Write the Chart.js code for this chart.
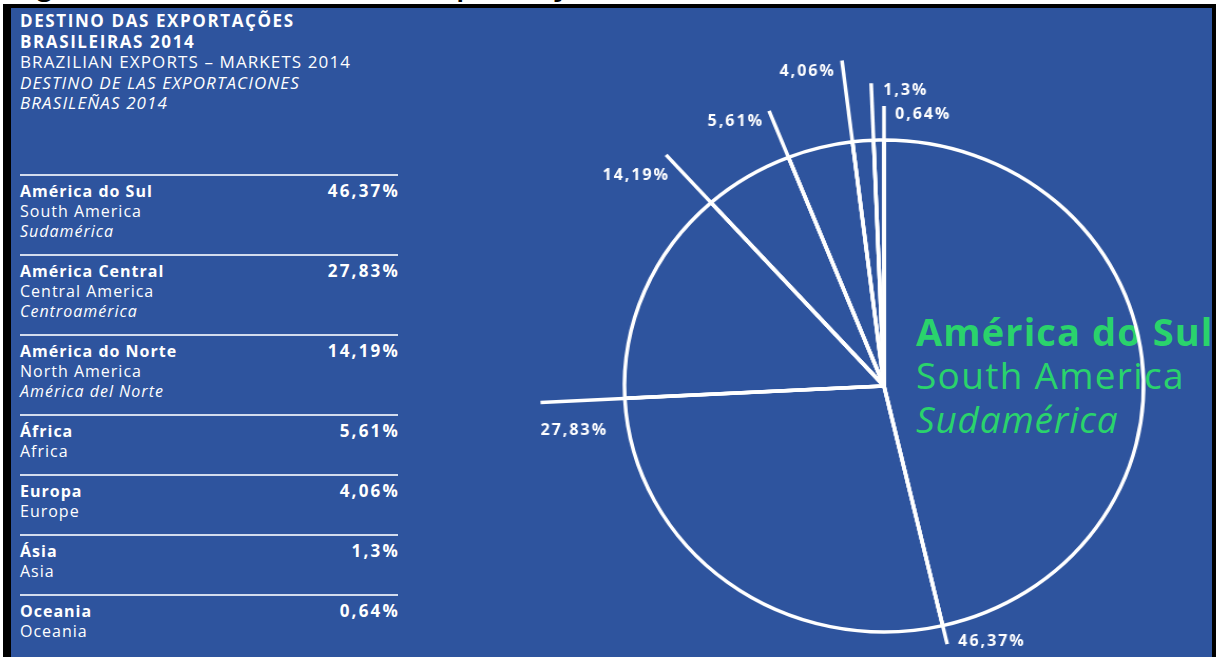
<!DOCTYPE html>
<html>
<head>
<meta charset="utf-8">
<script src="https://cdn.jsdelivr.net/npm/chart.js@4.4.1/dist/chart.umd.min.js"></script>
<style>
  html, body { margin: 0; padding: 0; width: 1216px; height: 657px; overflow: hidden; background: #fff; }
  body { position: relative; font-family: "Open Sans", Lato, sans-serif; color: #fff; }
  #caption { position: absolute; left: 0px; top: -42px; font: 40px "Liberation Sans", Arial, sans-serif; color: #000; white-space: nowrap; }
  #frame { position: absolute; left: 3px; top: 4px; right: 0; bottom: 0; background: #000; }
  #panel { position: absolute; left: 11px; top: 8px; width: 1201px; height: 649px; background: #2e549e; }
  #title { position: absolute; left: 20px; top: 11px; font-size: 17px; line-height: 20.5px; white-space: nowrap; }
  #title .b { font-weight: 700; letter-spacing: 1.6px; }
  #title .r { letter-spacing: 1.1px; }
  #title .i { font-style: italic; letter-spacing: 1.1px; }
  #table { position: absolute; left: 20px; top: 174px; width: 378px; }
  .row { position: relative; box-sizing: border-box; border-top: 2px solid #d3dcee; padding-top: 5px; font-size: 16px; line-height: 20px; letter-spacing: 1px; white-space: nowrap; }
  .row .pt { font-weight: 700; }
  .row .es { font-style: italic; }
  .row .val { position: absolute; right: -2px; top: 5px; font-weight: 700; font-size: 17px; letter-spacing: 2.2px; }
  #center { position: absolute; left: 916px; top: 309px; color: #2ad36c; white-space: nowrap; }
  #center div { height: 44px; line-height: 44px; }
  #center .b { font-weight: 700; font-size: 38px; letter-spacing: 1.1px; }
  #center .r { font-size: 37px; letter-spacing: 1.3px; }
  #center .i { font-style: italic; font-size: 37px; letter-spacing: 0.8px; }
  #pieBox { position: absolute; left: 504px; top: 6px; width: 760px; height: 760px; transform: scaleX(1.055); transform-origin: 380px 380px; }
</style>
</head>
<body>
<div id="caption">Figura 1 – Destino das exportações brasileiras</div>
<div id="frame"></div>
<div id="panel"></div>
<div id="title">
  <div class="b">DESTINO DAS EXPORTAÇÕES</div>
  <div class="b">BRASILEIRAS 2014</div>
  <div class="r">BRAZILIAN EXPORTS – MARKETS 2014</div>
  <div class="i">DESTINO DE LAS EXPORTACIONES</div>
  <div class="i">BRASILEÑAS 2014</div>
</div>
<div id="table"></div>
<div id="center">
  <div class="b">América do Sul</div>
  <div class="r">South America</div>
  <div class="i">Sudamérica</div>
</div>
<div id="pieBox"><canvas id="pie" width="760" height="760"></canvas></div>

<script>
// Export destinations, share of total (%)
const regionsPt = ['América do Sul', 'América Central', 'América do Norte', 'África', 'Europa', 'Ásia', 'Oceania'];
const regionsEn = ['South America', 'Central America', 'North America', 'Africa', 'Europe', 'Asia', 'Oceania'];
const regionsEs = ['Sudamérica', 'Centroamérica', 'América del Norte', '', '', '', ''];
const shares = [46.37, 27.83, 14.19, 5.61, 4.06, 1.3, 0.64];

// Leader lines: length from the pie centre, and where each value label sits
const leaderLength = [265, 326, 310, 296, 328, 303, 280];
const labelPlacement = [
  { dx: 11, dy: -3, align: 'left' },
  { dx: 0, dy: 28, align: 'left' },
  { dx: 4, dy: 21, align: 'right' },
  { dx: -5, dy: 11, align: 'right' },
  { dx: -6, dy: 11, align: 'right' },
  { dx: 12, dy: 7, align: 'left' },
  { dx: 11, dy: 8, align: 'left' }
];
const STRETCH_X = 1.055;

const fmt = v => String(v).replace('.', ',') + '%';

// Left-hand table
const table = document.getElementById('table');
regionsPt.forEach((name, i) => {
  const row = document.createElement('div');
  row.className = 'row';
  const lines = [`<div class="pt">${name}</div>`, `<div class="en">${regionsEn[i]}</div>`];
  if (regionsEs[i]) lines.push(`<div class="es">${regionsEs[i]}</div>`);
  row.innerHTML = lines.join('') + `<div class="val">${fmt(shares[i])}</div>`;
  row.style.height = (lines.length * 20 + 20) + 'px';
  table.appendChild(row);
});

// Spokes running out past the rim, with the share at each end
const spokes = {
  id: 'spokes',
  afterDatasetsDraw(chart) {
    const ctx = chart.ctx;
    const meta = chart.getDatasetMeta(0);
    ctx.save();
    meta.data.forEach((arc, i) => {
      const a = arc.endAngle;
      const L = leaderLength[i];
      const ex = arc.x + L * Math.cos(a);
      const ey = arc.y + L * Math.sin(a);
      ctx.strokeStyle = '#fff';
      ctx.lineWidth = 3.5;
      ctx.lineCap = 'butt';
      ctx.beginPath();
      ctx.moveTo(arc.x, arc.y);
      ctx.lineTo(ex, ey);
      ctx.stroke();
      const p = labelPlacement[i];
      ctx.save();
      ctx.translate(ex, ey);
      ctx.scale(1 / STRETCH_X, 1);
      ctx.font = 'bold 16px "Open Sans", Lato, sans-serif';
      ctx.letterSpacing = '2px';
      ctx.fillStyle = '#fff';
      ctx.textAlign = p.align;
      ctx.textBaseline = 'middle';
      ctx.fillText(fmt(shares[i]), p.dx, p.dy);
      ctx.restore();
    });
    ctx.restore();
  }
};

new Chart(document.getElementById('pie'), {
  type: 'pie',
  data: {
    labels: regionsPt,
    datasets: [{
      data: shares,
      backgroundColor: 'rgba(0,0,0,0)',
      borderColor: '#ffffff',
      borderWidth: 3.5,
      radius: 246
    }]
  },
  options: {
    responsive: false,
    animation: false,
    events: [],
    radius: 246,
    layout: { padding: 0 },
    plugins: { legend: { display: false }, tooltip: { enabled: false } }
  },
  plugins: [spokes]
});
</script>
</body>
</html>
